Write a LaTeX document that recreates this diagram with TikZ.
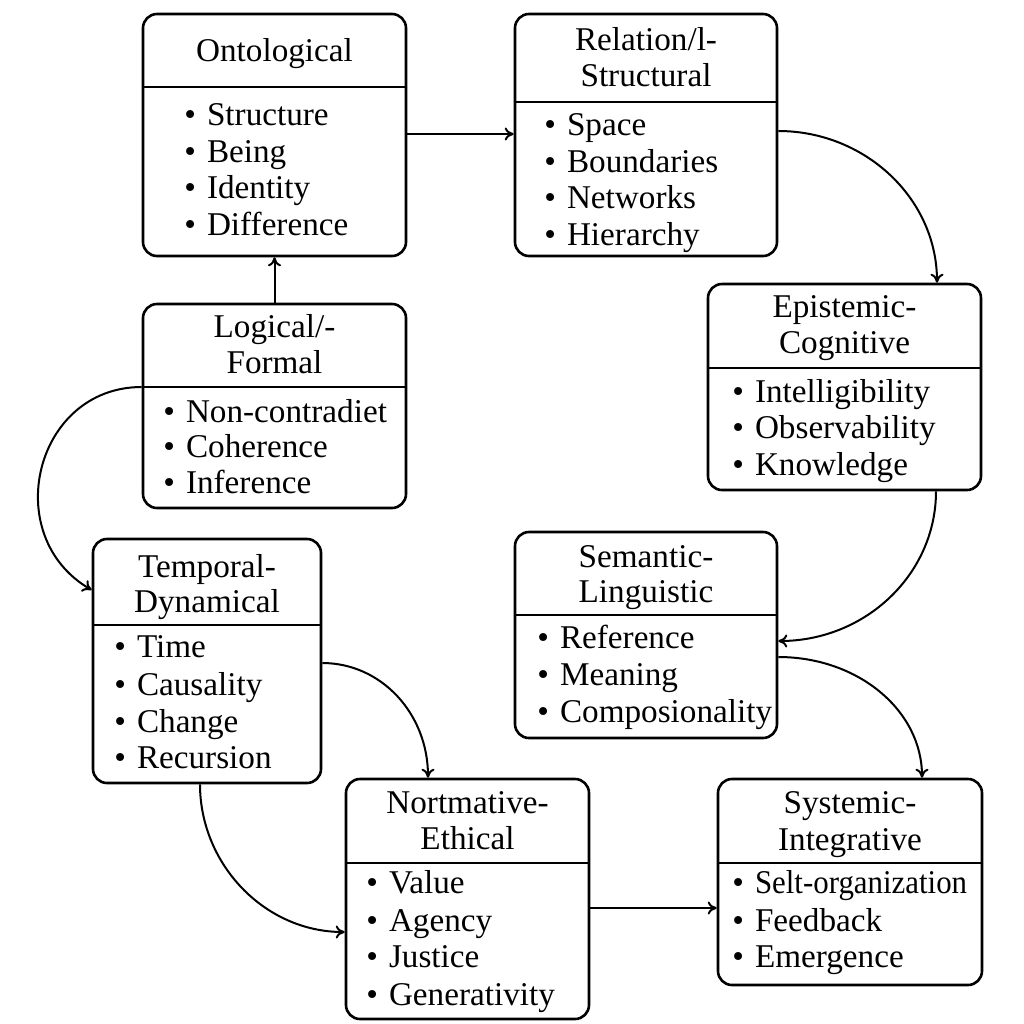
\documentclass[tikz,border=0pt]{standalone}
\usepackage{fontspec}
\setmainfont{Liberation Serif}
\usetikzlibrary{arrows.meta,fit}
\newcommand\bul{\textbullet\hspace{5.5pt}}
\begin{document}
\begin{tikzpicture}[x=0.5pt,y=-0.5pt,
  cbox/.style={draw, line width=1.3pt, rounded corners=7pt, inner sep=0pt},
  ttl/.style={anchor=base, inner sep=0pt, font=\fontsize{16.6}{18}\selectfont},
  itm/.style={anchor=base west, inner sep=0pt, font=\fontsize{16.6}{18}\selectfont},
  divl/.style={line width=1pt},
  arr/.style={line width=1pt, -{To[length=4.5pt,width=6.5pt]}}]
\fill[white] (0,0) rectangle (1024,1024);
\useasboundingbox (0,0) rectangle (1024,1024);

% Ontological
\node[cbox, fit={(143,14) (406,256)}] (onto) {};
\node[ttl] (onto-t) at (274.5,61) {Ontological};
\draw[divl] (onto.west |- 0,87) -- (onto.east |- 0,87);
\node[itm] (onto-1) at (184,125) {\bul Structure};
\node[itm] (onto-2) at (184,162) {\bul Being};
\node[itm] (onto-3) at (184,198) {\bul Identity};
\node[itm] (onto-4) at (184,235) {\bul Difference};

% Relational-Structural
\node[cbox, fit={(515,14) (777,256)}] (rel) {};
\node[ttl] (rel-t1) at (646,50) {Relation/l-};
\node[ttl] (rel-t2) at (646,86) {Structural};
\draw[divl] (rel.west |- 0,102) -- (rel.east |- 0,102);
\node[itm] (rel-1) at (544,135) {\bul Space};
\node[itm] (rel-2) at (544,172) {\bul Boundaries};
\node[itm] (rel-3) at (544,208) {\bul Networks};
\node[itm] (rel-4) at (544,245) {\bul Hierarchy};

% Epistemic-Cognitive
\node[cbox, fit={(708,284) (981,490)}] (epi) {};
\node[ttl] (epi-t1) at (844.5,317) {Epistemic-};
\node[ttl] (epi-t2) at (844.5,353) {Cognitive};
\draw[divl] (epi.west |- 0,368) -- (epi.east |- 0,368);
\node[itm] (epi-1) at (732,402) {\bul Intelligibility};
\node[itm] (epi-2) at (732,438) {\bul Observability};
\node[itm] (epi-3) at (732,475) {\bul Knowledge};

% Logical-Formal
\node[cbox, fit={(143,304) (406,508)}] (log) {};
\node[ttl] (log-t1) at (274.5,337) {Logical/-};
\node[ttl] (log-t2) at (274.5,373) {Formal};
\draw[divl] (log.west |- 0,387) -- (log.east |- 0,387);
\node[itm] (log-1) at (163,422) {\bul Non-contradiet};
\node[itm] (log-2) at (163,457) {\bul Coherence};
\node[itm] (log-3) at (163,493) {\bul Inference};

% Temporal-Dynamical
\node[cbox, fit={(93,539) (321,783)}] (tem) {};
\node[ttl] (tem-t1) at (207,577) {Temporal-};
\node[ttl] (tem-t2) at (207,612) {Dynamical};
\draw[divl] (tem.west |- 0,625) -- (tem.east |- 0,625);
\node[itm] (tem-1) at (114,657) {\bul Time};
\node[itm] (tem-2) at (114,695) {\bul Causality};
\node[itm] (tem-3) at (114,732) {\bul Change};
\node[itm] (tem-4) at (114,768) {\bul Recursion};

% Semantic-Linguistic
\node[cbox, fit={(515,532) (777,738)}] (sem) {};
\node[ttl] (sem-t1) at (646,567) {Semantic-};
\node[ttl] (sem-t2) at (646,602) {Linguistic};
\draw[divl] (sem.west |- 0,615) -- (sem.east |- 0,615);
\node[itm] (sem-1) at (537,648) {\bul Reference};
\node[itm] (sem-2) at (537,685) {\bul Meaning};
\node[itm] (sem-3) at (537,722) {\bul Composionality};

% Normative-Ethical
\node[cbox, fit={(346,779) (589,1019)}] (nor) {};
\node[ttl] (nor-t1) at (467.5,813) {Nortmative-};
\node[ttl] (nor-t2) at (467.5,849) {Ethical};
\draw[divl] (nor.west |- 0,863) -- (nor.east |- 0,863);
\node[itm] (nor-1) at (366,893) {\bul Value};
\node[itm] (nor-2) at (366,931) {\bul Agency};
\node[itm] (nor-3) at (366,967) {\bul Justice};
\node[itm] (nor-4) at (366,1005) {\bul Generativity};

% Systemic-Integrative
\node[cbox, fit={(718,779) (982,985)}] (sys) {};
\node[ttl] (sys-t1) at (850,813) {Systemic-};
\node[ttl] (sys-t2) at (850,850) {Integrative};
\draw[divl] (sys.west |- 0,863) -- (sys.east |- 0,863);
\node[itm] (sys-1) at (732,893) {\bul\scalebox{0.93}[1]{Selt-organization}};
\node[itm] (sys-2) at (732,931) {\bul Feedback};
\node[itm] (sys-3) at (732,967) {\bul Emergence};

% Connectors
\draw[arr] (onto.east |- 0,134) -- (rel.west |- 0,134);
\draw[arr] (log.north) -- (onto.south);
\draw[arr] (rel.east |- 0,131) .. controls +(87,0) and +(0,-84) .. (epi.north -| 937,0);
\draw[arr] (epi.south -| 936,0) .. controls +(0,83) and +(87,0) .. (sem.east |- 0,641);
\draw[arr] (sem.east |- 0,657) .. controls +(80,0) and +(0,-67) .. (sys.north -| 922,0);
\draw[arr] (log.west |- 0,387) .. controls +(-107,0) and +(-93,-54) .. (tem.west |- 0,590);
\draw[arr] (tem.east |- 0,663) .. controls +(59,0) and +(0,-64) .. (nor.north -| 428,0);
\draw[arr] (tem.south -| 200,0) .. controls +(0,80) and +(-80,0) .. (nor.west |- 0,932);
\draw[arr] (nor.east |- 0,908) -- (sys.west |- 0,908);
\end{tikzpicture}
\end{document}
